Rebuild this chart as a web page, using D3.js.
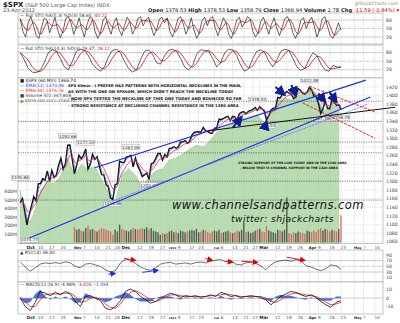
<!DOCTYPE html>
<html>
<head>
<meta charset="utf-8">
<script src="https://cdn.jsdelivr.net/npm/d3@7"></script>
<style>
  body { margin: 0; background: #fff; }
  svg { display: block; }
  text { font-family: "DejaVu Sans", sans-serif; }
</style>
</head>
<body>
<div id="chart"></div>
<script>
// ---- data ----
var holidays = ["2011-11-24", "2011-12-26", "2012-01-02", "2012-01-16", "2012-02-20", "2012-04-06"]

// daily closes, 28 Sep 2011 -> 23 Apr 2012
var closes = [1151.06, 1160.40, 1131.42,
  1099.23, 1123.95, 1144.03, 1164.97, 1155.46, 1194.89, 1195.54, 1207.25, 1203.66, 1224.58, 1200.86, 1225.38, 1209.88, 1215.39, 1238.25, 1254.19, 1229.05, 1242.00, 1284.59, 1285.09, 1253.30,
  1218.28, 1237.90, 1261.15, 1253.23, 1261.12, 1275.92, 1229.10, 1239.69, 1263.85, 1251.78, 1257.81, 1236.91, 1216.13, 1215.65, 1192.98, 1188.04, 1161.79, 1158.67, 1192.55, 1195.19, 1246.96,
  1244.58, 1244.28, 1257.08, 1258.47, 1261.01, 1234.35, 1255.19, 1236.47, 1225.73, 1211.82, 1215.75, 1219.66, 1205.35, 1241.30, 1243.72, 1254.00, 1265.33, 1265.43, 1249.64, 1263.02, 1257.60,
  1277.06, 1277.30, 1281.06, 1277.81, 1280.70, 1292.08, 1292.48, 1295.50, 1289.09, 1293.67, 1308.04, 1314.50, 1315.38, 1316.00, 1314.65, 1326.06, 1318.43, 1316.33, 1313.01, 1312.41,
  1324.09, 1325.54, 1344.90, 1344.33, 1347.05, 1349.96, 1351.95, 1342.64, 1351.77, 1350.50, 1343.23, 1358.04, 1361.23, 1362.21, 1357.66, 1363.46, 1365.74, 1367.59, 1372.18, 1365.68,
  1374.09, 1369.63, 1364.33, 1343.36, 1352.63, 1365.91, 1370.87, 1371.09, 1395.95, 1394.28, 1402.60, 1404.17, 1409.75, 1405.52, 1402.89, 1392.78, 1397.11, 1416.51, 1412.52, 1405.54, 1403.28, 1408.47,
  1419.04, 1413.38, 1398.96, 1398.08, 1382.20, 1358.59, 1368.71, 1387.57, 1370.26, 1369.57, 1390.78, 1385.14, 1376.92, 1378.53, 1366.94]

// comparison area (green), every 3rd session from 28 Sep, read in price units
var compareVals = [1180, 1095, 1125, 1180, 1200, 1195, 1215, 1255, 1215, 1240, 1230, 1235, 1205, 1175, 1150, 1215,
  1230, 1215, 1185, 1210, 1225, 1230, 1250, 1255, 1265, 1275, 1285, 1280, 1295, 1315, 1325, 1330,
  1340, 1345, 1350, 1355, 1335, 1360, 1385, 1395, 1390, 1400, 1405, 1418, 1385, 1365, 1380, 1372]

// hourly volume peaks (M), 1 Nov 2011 -> 23 Apr 2012
var volumeStart = "2011-11-01"
var volumes = [180, 150, 160, 140, 130, 170, 200, 150, 160, 140, 130, 150, 170, 160, 150, 140, 130, 90, 150, 130, 210,
  160, 150, 140, 130, 150, 170, 160, 150, 160, 170, 160, 180, 150, 170, 140, 130, 120, 90, 110, 100, 110,
  130, 140, 120, 130, 110, 140, 130, 120, 130, 140, 150, 140, 160, 120, 130, 150, 140, 120, 110, 130,
  140, 130, 150, 110, 120, 130, 140, 120, 110, 120, 140, 130, 150, 240, 120, 130, 110, 120, 140, 150,
  160, 130, 120, 190, 140, 130, 120, 110, 150, 140, 130, 150, 530, 110, 100, 120, 110, 130, 120, 110, 100, 140,
  130, 120, 140, 120, 150, 170, 140, 160, 150, 130, 150, 140, 130, 160, 320]

var sto1K = [85, 40, 20, 70, 92, 60, 25, 15, 55, 88, 80, 35, 60, 90, 45, 18, 40, 85, 92, 70,
  30, 55, 88, 50, 20, 65, 90, 85, 40, 15, 35, 80, 92, 55, 30, 70, 88, 45, 25, 60,
  90, 75, 30, 50, 85, 92, 60, 80, 90, 55, 25, 45, 82, 90, 70, 88, 40, 20, 50, 85,
  92, 65, 30, 55, 88, 45, 15, 35, 78, 90, 60, 85, 92, 50, 25, 60, 88, 70, 30, 15,
  45, 80, 90, 55, 70, 92, 85, 40, 20, 35, 75, 90, 60, 30, 65, 88, 50, 25, 55, 85,
  92, 70, 35, 15, 40, 80, 88, 50, 75, 90, 60, 20, 45, 85, 92, 55, 25, 15, 40, 70, 45]
var sto2K = [80, 55, 25, 12, 10, 18, 45, 80, 90, 85, 60, 30, 20, 50, 85, 92, 88, 70, 40, 25,
  15, 30, 65, 88, 92, 80, 50, 25, 12, 20, 55, 85, 90, 75, 45, 40, 70, 88, 92, 85,
  60, 30, 20, 35, 75, 90, 88, 85, 60, 30, 45, 80, 92, 90, 70, 35, 15, 25, 60, 85,
  90, 80, 50, 30, 55, 85, 92, 88, 60, 30, 18, 25, 55, 80, 70, 40, 20, 15, 35, 30, 28]
var rsiVals = [65, 48, 33, 45, 58, 62, 60, 63, 60, 66, 62, 50, 45, 58, 60, 55, 50, 38, 30, 35,
  62, 75, 72, 60, 48, 40, 36, 45, 58, 62, 64, 58, 60, 62, 58, 63, 65, 62, 68, 72,
  74, 66, 70, 58, 55, 62, 65, 60, 52, 38, 55, 66, 70, 72, 68, 74, 70, 52, 48, 40,
  35, 42, 55, 52, 40]
var macdVals = [0, -10, -15, -5, 8, 6, 3, 7, 4, 8, 5, -4, -10, 2, 3, 0, -3, -12, -14, -10,
  -3, 8, 11, 8, 2, -2, -6, -4, 0, 3, 6, 4, 1, 3, 2, 3, 1, 2, 4, 2,
  7, 5, 2, 3, 1, 2, 3, 2, 1, -2, -8, -3, 2, 5, 8, 7, 4, 2, 4, 1, -4, -8, -11, -5, -3]
var signalVals = [1, -4, -10, -10, -2, 4, 5, 5, 5, 6, 6, 2, -5, -4, 0, 1, -1, -7, -11, -12,
  -7, 1, 7, 9, 6, 2, -2, -4, -2, 1, 4, 4, 3, 2, 2, 2, 2, 2, 3, 3,
  4, 5, 4, 3, 2, 2, 2, 2, 2, 0, -4, -5, -2, 2, 5, 6, 5, 4, 3, 2, -1, -5, -8, -7, -5]

var dateTicks = [["Oct", "2011-10-03"], ["10", "2011-10-10"], ["17", "2011-10-17"], ["24", "2011-10-24"],
  ["Nov", "2011-11-01"], ["7", "2011-11-07"], ["14", "2011-11-14"], ["21", "2011-11-21"], ["28", "2011-11-28"],
  ["Dec", "2011-12-01"], ["12", "2011-12-12"], ["19", "2011-12-19"], ["27", "2011-12-27"],
  ["2012", "2012-01-03"], ["9", "2012-01-09"], ["17", "2012-01-17"], ["23", "2012-01-23"],
  ["Feb", "2012-02-01"], ["6", "2012-02-06"], ["13", "2012-02-13"], ["21", "2012-02-21"], ["27", "2012-02-27"],
  ["Mar", "2012-03-01"], ["12", "2012-03-12"], ["19", "2012-03-19"], ["26", "2012-03-26"],
  ["Apr", "2012-04-02"], ["9", "2012-04-09"], ["16", "2012-04-16"], ["23", "2012-04-23"],
  ["May", "2012-05-01"], ["7", "2012-05-07"], ["14", "2012-05-14"]]
var priceTicks = d3.range(1060, 1421, 20)
var volTicks = [100, 200, 300, 400, 500, 600]
var levelLines = [1387, 1340, 1292, 1267, 1201, 1157]

var priceLabels = [["2011-09-28", 1195.86, "1195.86", -1], ["2011-10-04", 1074.77, "1074.77", 1],
  ["2011-10-27", 1292.66, "1292.66", -1], ["2011-11-08", 1277.55, "1277.55", -1],
  ["2011-11-25", 1158.66, "1158.66", 1], ["2011-12-07", 1267.06, "1267.06", -1],
  ["2011-12-19", 1202.37, "1202.37", 1], ["2012-02-29", 1378.04, "1378.04", -1],
  ["2012-03-06", 1340.03, "1340.03", 1], ["2012-04-02", 1422.38, "1422.38", -1],
  ["2012-04-10", 1357.38, "1357.38", 1], ["2012-04-23", 1358.79, "1358.79", 1]]

// trendlines, [date, price] pairs
var blueLines = [[["2011-11-14", 1232], ["2012-05-08", 1436]],
  [["2011-10-04", 1069], ["2012-05-10", 1397]]]
var blueLinesLight = [[["2011-11-25", 1155], ["2012-05-09", 1380]]]
var blackLines = [[["2012-01-27", 1318], ["2012-05-25", 1373]]]
var redLines = [[["2012-04-02", 1422], ["2012-05-14", 1362]],
  [["2012-03-28", 1383], ["2012-05-14", 1301]]]
var navyArrows = [[["2012-02-13", 1325], ["2012-02-17", 1350]], [["2012-03-05", 1321], ["2012-03-06", 1340]],
  [["2012-03-12", 1420], ["2012-03-16", 1402]], [["2012-03-21", 1425], ["2012-03-23", 1400]],
  [["2012-04-09", 1405], ["2012-04-12", 1385]], [["2012-04-16", 1408], ["2012-04-19", 1385]]]
var rsiRedArrows = [[["2011-12-02", 78], ["2011-12-09", 71]], [["2012-01-26", 78], ["2012-01-31", 71]],
  [["2012-02-08", 68], ["2012-02-13", 64]], [["2012-02-17", 68], ["2012-02-29", 64]],
  [["2012-03-19", 82], ["2012-03-29", 71]]]
var rsiBlueArrows = [[["2011-11-22", 22], ["2011-11-28", 25]], [["2011-12-14", 29], ["2011-12-23", 36]]]

// ---- layout ----
var width = 400, height = 323
var plotL = 18, plotR = 383
var panels = {sto1: [13, 44], sto2: [45, 78], main: [78, 243.5], rsi: [250, 282], macd: [282, 314]}

var holidaySet = new Set(holidays)
var fmt = d3.utcFormat("%Y-%m-%d")
var days = d3.utcDays(new Date("2011-09-28"), new Date("2012-05-31"))
  .filter(d => d.getUTCDay() % 6 != 0 && !holidaySet.has(fmt(d)))
  .map(fmt)
var pos = new Map(days.map((d, i) => [d, i]))
var lastPos = closes.length - 1

var x = d3.scaleLinear().domain([3, 142]).range([27, 341])
var yP = d3.scaleLinear().domain([1060, 1420]).range([241.8, 87])
var yV = d3.scaleLinear().domain([0, 600]).range([242.5, 191.5])
var yS1 = d3.scaleLinear().domain([0, 100]).range([42.7, 14.4])
var yS2 = d3.scaleLinear().domain([0, 100]).range([75.5, 47])
var yR = d3.scaleLinear().domain([10, 90]).range([277.7, 255])
var yM = d3.scaleLinear().domain([-10, 10]).range([306.5, 289.8])

// spread a sampled series evenly over the session range
function spread(vals) {
  var s = d3.scaleLinear().domain([0, vals.length - 1]).range([0, lastPos])
  return vals.map((v, i) => [s(i), v])
}
function ema(vals, n) {
  var a = 2 / (n + 1), out = [], e = vals[0]
  vals.forEach(v => { e = a * v + (1 - a) * e; out.push(e) })
  return out
}
function sma(vals, n) {
  return vals.map((v, i) => d3.mean(vals.slice(Math.max(0, i - n + 1), i + 1)))
}
// shrink the font of a text until it fits a given width
function fitWidth(txt, w) {
  var fs = +txt.attr("font-size") || 4.5
  var len = txt.node().getComputedTextLength()
  if (len > w) txt.attr("font-size", (fs * w / len).toFixed(2))
  return txt
}

var svg = d3.select("#chart").append("svg")
  .attr("width", width).attr("height", height)
  .attr("viewBox", [0, 0, width, height])

var defs = svg.append("defs")
function marker(id, color, size) {
  defs.append("marker").attr("id", id)
    .attr("viewBox", "0 0 10 10").attr("refX", 8).attr("refY", 5)
    .attr("markerWidth", size).attr("markerHeight", size)
    .attr("markerUnits", "userSpaceOnUse").attr("orient", "auto")
    .append("path").attr("d", "M0,0L10,5L0,10z").attr("fill", color)
}
marker("navyHead", "#0b1f8f", 11)
marker("redHead", "#e00000", 6)
marker("blueHead", "#1030e0", 6)

// ---- header ----
var head = svg.append("g").attr("font-size", 5.2).attr("fill", "#222")
head.append("text").attr("x", 3).attr("y", 6.5)
  .call(t => t.append("tspan").attr("font-weight", "bold").attr("font-size", 7).text("$SPX"))
  .call(t => t.append("tspan").attr("fill", "#555").text(" (S&P 500 Large Cap Index) INDX"))
head.append("text").attr("x", 3).attr("y", 12).attr("fill", "#555").text("23-Apr-2012")
head.append("text").attr("x", 398).attr("y", 5).attr("text-anchor", "end").attr("fill", "#888").attr("font-size", 4.6)
  .text("@StockCharts.com")
var quote = head.append("text").attr("x", 399).attr("y", 12).attr("text-anchor", "end")
;[["Open", "1378.53"], ["High", "1378.53"], ["Low", "1358.79"], ["Close", "1366.94"], ["Volume", "2.7B"], ["Chg", "-11.59 (-0.84%)"]]
  .forEach(p => {
    quote.append("tspan").attr("font-weight", "bold").text(p[0] + " ")
    quote.append("tspan").attr("fill", p[0] == "Chg" ? "#c00" : "#222").text(p[1] + "  ")
  })
quote.append("tspan").attr("fill", "#c00").text("\u25be")

// ---- panel frames & grids ----
var grid = svg.append("g")
Object.values(panels).forEach(p => {
  grid.append("rect").attr("x", plotL).attr("y", p[0]).attr("width", plotR - plotL).attr("height", p[1] - p[0])
    .attr("fill", "#fff").attr("stroke", "#9a9a9a").attr("stroke-width", 0.6)
})
dateTicks.forEach(t => {
  var px = x(pos.get(t[1]))
  Object.values(panels).forEach(p => {
    grid.append("line").attr("x1", px).attr("x2", px).attr("y1", p[0]).attr("y2", p[1])
      .attr("stroke", "#dedede").attr("stroke-width", 0.6)
  })
})
priceTicks.forEach(v => {
  grid.append("line").attr("x1", plotL).attr("x2", plotR).attr("y1", yP(v)).attr("y2", yP(v))
    .attr("stroke", "#e6e6e6").attr("stroke-width", 0.6)
})
function oscGrid(y, vals, dash) {
  vals.forEach((v, i) => grid.append("line").attr("x1", plotL).attr("x2", plotR).attr("y1", y(v)).attr("y2", y(v))
    .attr("stroke", "#aaa").attr("stroke-width", 0.6).attr("stroke-dasharray", dash[i]))
}
oscGrid(yS1, [80, 50, 20], ["", "3,1,1,1", ""])
oscGrid(yS2, [80, 50, 20], ["", "3,1,1,1", ""])
oscGrid(yR, [70, 50, 30], ["", "3,1,1,1", ""])
oscGrid(yM, [0], [""])

// ---- axes labels ----
var axes = svg.append("g").attr("font-size", 4.6).attr("fill", "#444")
function rightLabels(y, vals) {
  vals.forEach(v => axes.append("text").attr("x", plotR + 3).attr("y", y(v) + 1.6).text(v))
}
rightLabels(yS1, [80, 50, 20])
rightLabels(yS2, [80, 50, 20])
rightLabels(yP, priceTicks)
rightLabels(yR, [90, 70, 50, 30, 10])
rightLabels(yM, [10, 0, -10])
volTicks.forEach(v => axes.append("text").attr("x", plotL - 1).attr("y", yV(v) + 1.6)
  .attr("text-anchor", "end").text(v + "M"))
;[248.8, 319].forEach(yy => {
  dateTicks.forEach((t, i) => {
    var isMonth = isNaN(+t[0]) || t[0] == "2012"
    var x0 = x(pos.get(t[1])) - 0.5
    var next = dateTicks[i + 1] ? x(pos.get(dateTicks[i + 1][1])) - 2 : plotR
    var txt = axes.append("text").attr("x", x0).attr("y", yy).attr("font-size", 4.3)
      .attr("font-weight", isMonth ? "bold" : "normal").attr("fill", isMonth ? "#222" : "#555").text(t[0])
    // crowded pairs (28/Dec, 2012/9, Feb/6) get a smaller font
    fitWidth(txt, next - x0)
  })
})

// ---- main panel ----
var main = svg.append("g")
var cmp = compareVals.map((v, i) => [Math.min(i * 3, lastPos), v])
main.append("path").datum(cmp)
  .attr("d", d3.area().x(d => x(d[0])).y0(panels.main[1]).y1(d => yP(d[1])))
  .attr("fill", "#9fcf94").attr("fill-opacity", 0.72).attr("stroke", "#7fb872").attr("stroke-width", 0.4)

levelLines.forEach(v => main.append("line").attr("x1", plotL).attr("x2", plotR).attr("y1", yP(v)).attr("y2", yP(v))
  .attr("stroke", "#333").attr("stroke-width", 0.6).attr("stroke-dasharray", "1.2,1.2"))

var vStart = pos.get(volumeStart)
main.append("g").selectAll("rect").data(volumes).join("rect")
  .attr("x", (d, i) => x(vStart + i) - 0.7).attr("width", 1.4)
  .attr("y", d => yV(d)).attr("height", d => yV(0) - yV(d))
  .attr("fill", (d, i) => closes[vStart + i] < closes[vStart + i - 1] ? "#d84a4a" : "#333")
  .attr("opacity", 0.75)

var fast = ema(closes, 13 / 6.5), slow = ema(closes, 34 / 6.5)
var line = d3.line().x((d, i) => x(i)).y(d => yP(d))
main.append("path").datum(closes).attr("d", line).attr("fill", "none").attr("stroke", "#111").attr("stroke-width", 1.4)
main.append("path").datum(fast).attr("d", line).attr("fill", "none").attr("stroke", "#3a55d8").attr("stroke-width", 0.6)
main.append("path").datum(slow).attr("d", line).attr("fill", "none").attr("stroke", "#e03030").attr("stroke-width", 0.8)

// price labels
priceLabels.forEach(l => {
  var px = x(pos.get(l[0])), py = yP(l[1]) + (l[3] > 0 ? 6 : -4)
  var g = main.append("g")
  g.append("rect").attr("x", px - 9).attr("y", py - 4).attr("width", 18).attr("height", 5)
    .attr("fill", "#f4f4f4").attr("stroke", "#999").attr("stroke-width", 0.4)
  g.append("text").attr("x", px).attr("y", py).attr("text-anchor", "middle").attr("font-size", 4.2)
    .attr("fill", "#333").text(l[2])
})

// trendlines
function drawLines(list, color, w, dash, head) {
  list.forEach(seg => main.append("line")
    .attr("x1", x(pos.get(seg[0][0]))).attr("y1", yP(seg[0][1]))
    .attr("x2", x(pos.get(seg[1][0]))).attr("y2", yP(seg[1][1]))
    .attr("stroke", color).attr("stroke-width", w).attr("stroke-dasharray", dash)
    .attr("marker-end", head ? "url(#" + head + ")" : null))
}
drawLines(blueLines, "#1a2ee8", 1.1, "")
drawLines(blueLinesLight, "#5d7cf5", 0.9, "2,1")
drawLines(blackLines, "#111", 1, "")
drawLines(redLines, "#f01010", 0.9, "3,1.2")
drawLines(navyArrows, "#0b1f8f", 2, "", "navyHead")

// legend
var leg = main.append("g").attr("font-size", 4.4)
;[["$SPX (60 Min) 1366.74", "#222", "\u25a0"], ["EMA(13) 1370.48", "#3a55d8", "\u2014"], ["EMA(34) 1376.26", "#e03030", "\u2014"],
  ["Volume 322,347,808", "#444", "\u25a0"], ["$NYA (60 min) 2583.33", "#5a9a4e", "\u25b2"]]
  .forEach((r, i) => leg.append("text").attr("x", plotL + 2).attr("y", 82 + i * 5).attr("fill", r[1]).text(r[2] + " " + r[0]))

// annotations
var note = main.append("g").attr("font-weight", "bold").attr("fill", "#111")
  .attr("font-family", "'Liberation Sans Narrow', 'DejaVu Sans Condensed', sans-serif")
;[["SPX 60min - I PREFER H&S PATTERNS WITH HORIZONTAL NECKLINES IN THE MAIN,", 242],
  ["AS WITH THE ONE ON SPX60M, WHICH DIDN'T REACH THE NECKLINE TODAY", 234],
  ["- NOW SPX TESTED THE NECKLINE OF THIS ONE TODAY AND BOUNCED SO FAR", 242],
  ["- STRONG RESISTANCE AT DECLINING CHANNEL RESISTANCE IN THE 1380 AREA", 239]]
  .forEach((r, i) => fitWidth(note.append("text").attr("x", 68).attr("y", 86.5 + i * 6.8)
    .attr("font-size", 5).text(r[0]), r[1] - 68))
;[["STRONG SUPPORT AT THE LOW TODAY AND IN THE 1340 AREA", 238, 347],
  ["- BELOW THAT IS CHANNEL SUPPORT IN THE 1320 AREA", 240, 338]]
  .forEach((r, i) => fitWidth(note.append("text").attr("x", r[1]).attr("y", 163.5 + i * 5.5)
    .attr("font-size", 5).text(r[0]), r[2] - r[1]))

var wm = main.append("g").attr("font-family", "DejaVu Serif").attr("font-style", "italic").attr("fill", "#111")
fitWidth(wm.append("text").attr("x", 172).attr("y", 209).attr("font-size", 14)
  .attr("letter-spacing", 0.4).text("www.channelsandpatterns.com"), 190)
fitWidth(wm.append("text").attr("x", 231).attr("y", 222).attr("font-size", 14)
  .attr("letter-spacing", 0.4).text("twitter: shjackcharts"), 100)

// ---- oscillators ----
var osc = svg.append("g")
function oscLine(data, y, color, w) {
  osc.append("path").datum(data)
    .attr("d", d3.line().x(d => x(d[0])).y(d => y(d[1])))
    .attr("fill", "none").attr("stroke", color).attr("stroke-width", w)
}
oscLine(spread(sma(sto1K, 3)), yS1, "#d01010", 0.8)
oscLine(spread(sto1K), yS1, "#222", 0.7)
oscLine(spread(sma(sto2K, 3)), yS2, "#d01010", 0.8)
oscLine(spread(sto2K), yS2, "#222", 0.7)
oscLine(spread(rsiVals), yR, "#333", 0.7)

var macdPts = spread(macdVals), sigPts = spread(signalVals)
osc.append("path").datum(macdPts.map((d, i) => [d[0], d[1] - sigPts[i][1]]))
  .attr("d", d3.area().x(d => x(d[0])).y0(yM(0)).y1(d => yM(d[1])))
  .attr("fill", "#2a4cc8").attr("opacity", 0.8)
oscLine(sigPts, yM, "#e02020", 0.8)
oscLine(macdPts, yM, "#111", 0.8)

function oscArrows(list, color, head) {
  list.forEach(seg => osc.append("line")
    .attr("x1", x(pos.get(seg[0][0]))).attr("y1", yR(seg[0][1]))
    .attr("x2", x(pos.get(seg[1][0]))).attr("y2", yR(seg[1][1]))
    .attr("stroke", color).attr("stroke-width", 0.9).attr("marker-end", "url(#" + head + ")"))
}
oscArrows(rsiRedArrows, "#e00000", "redHead")
oscArrows(rsiBlueArrows, "#1030e0", "blueHead")

var oleg = osc.append("g").attr("font-size", 4.4).attr("fill", "#333")
function legendRow(y, parts) {
  var t = oleg.append("text").attr("x", plotL + 2).attr("y", y)
  parts.forEach(p => t.append("tspan").attr("fill", p[1]).text(p[0]))
}
legendRow(17, [["\u2014 Full STO %K(5,3) %D(3) 58.65, ", "#333"], ["40.22", "#d01010"]])
legendRow(49.5, [["\u2014 Full STO %K(14,3) %D(3) 29.37, ", "#333"], ["28.12", "#d01010"]])
legendRow(254, [["\u25b2 RSI(14) 38.40", "#333"]])
legendRow(286, [["\u2014 MACD(12,26,9) -4.989, ", "#333"], ["-3.426", "#d01010"], [", -1.494", "#2a4cc8"]])
</script>
</body>
</html>
